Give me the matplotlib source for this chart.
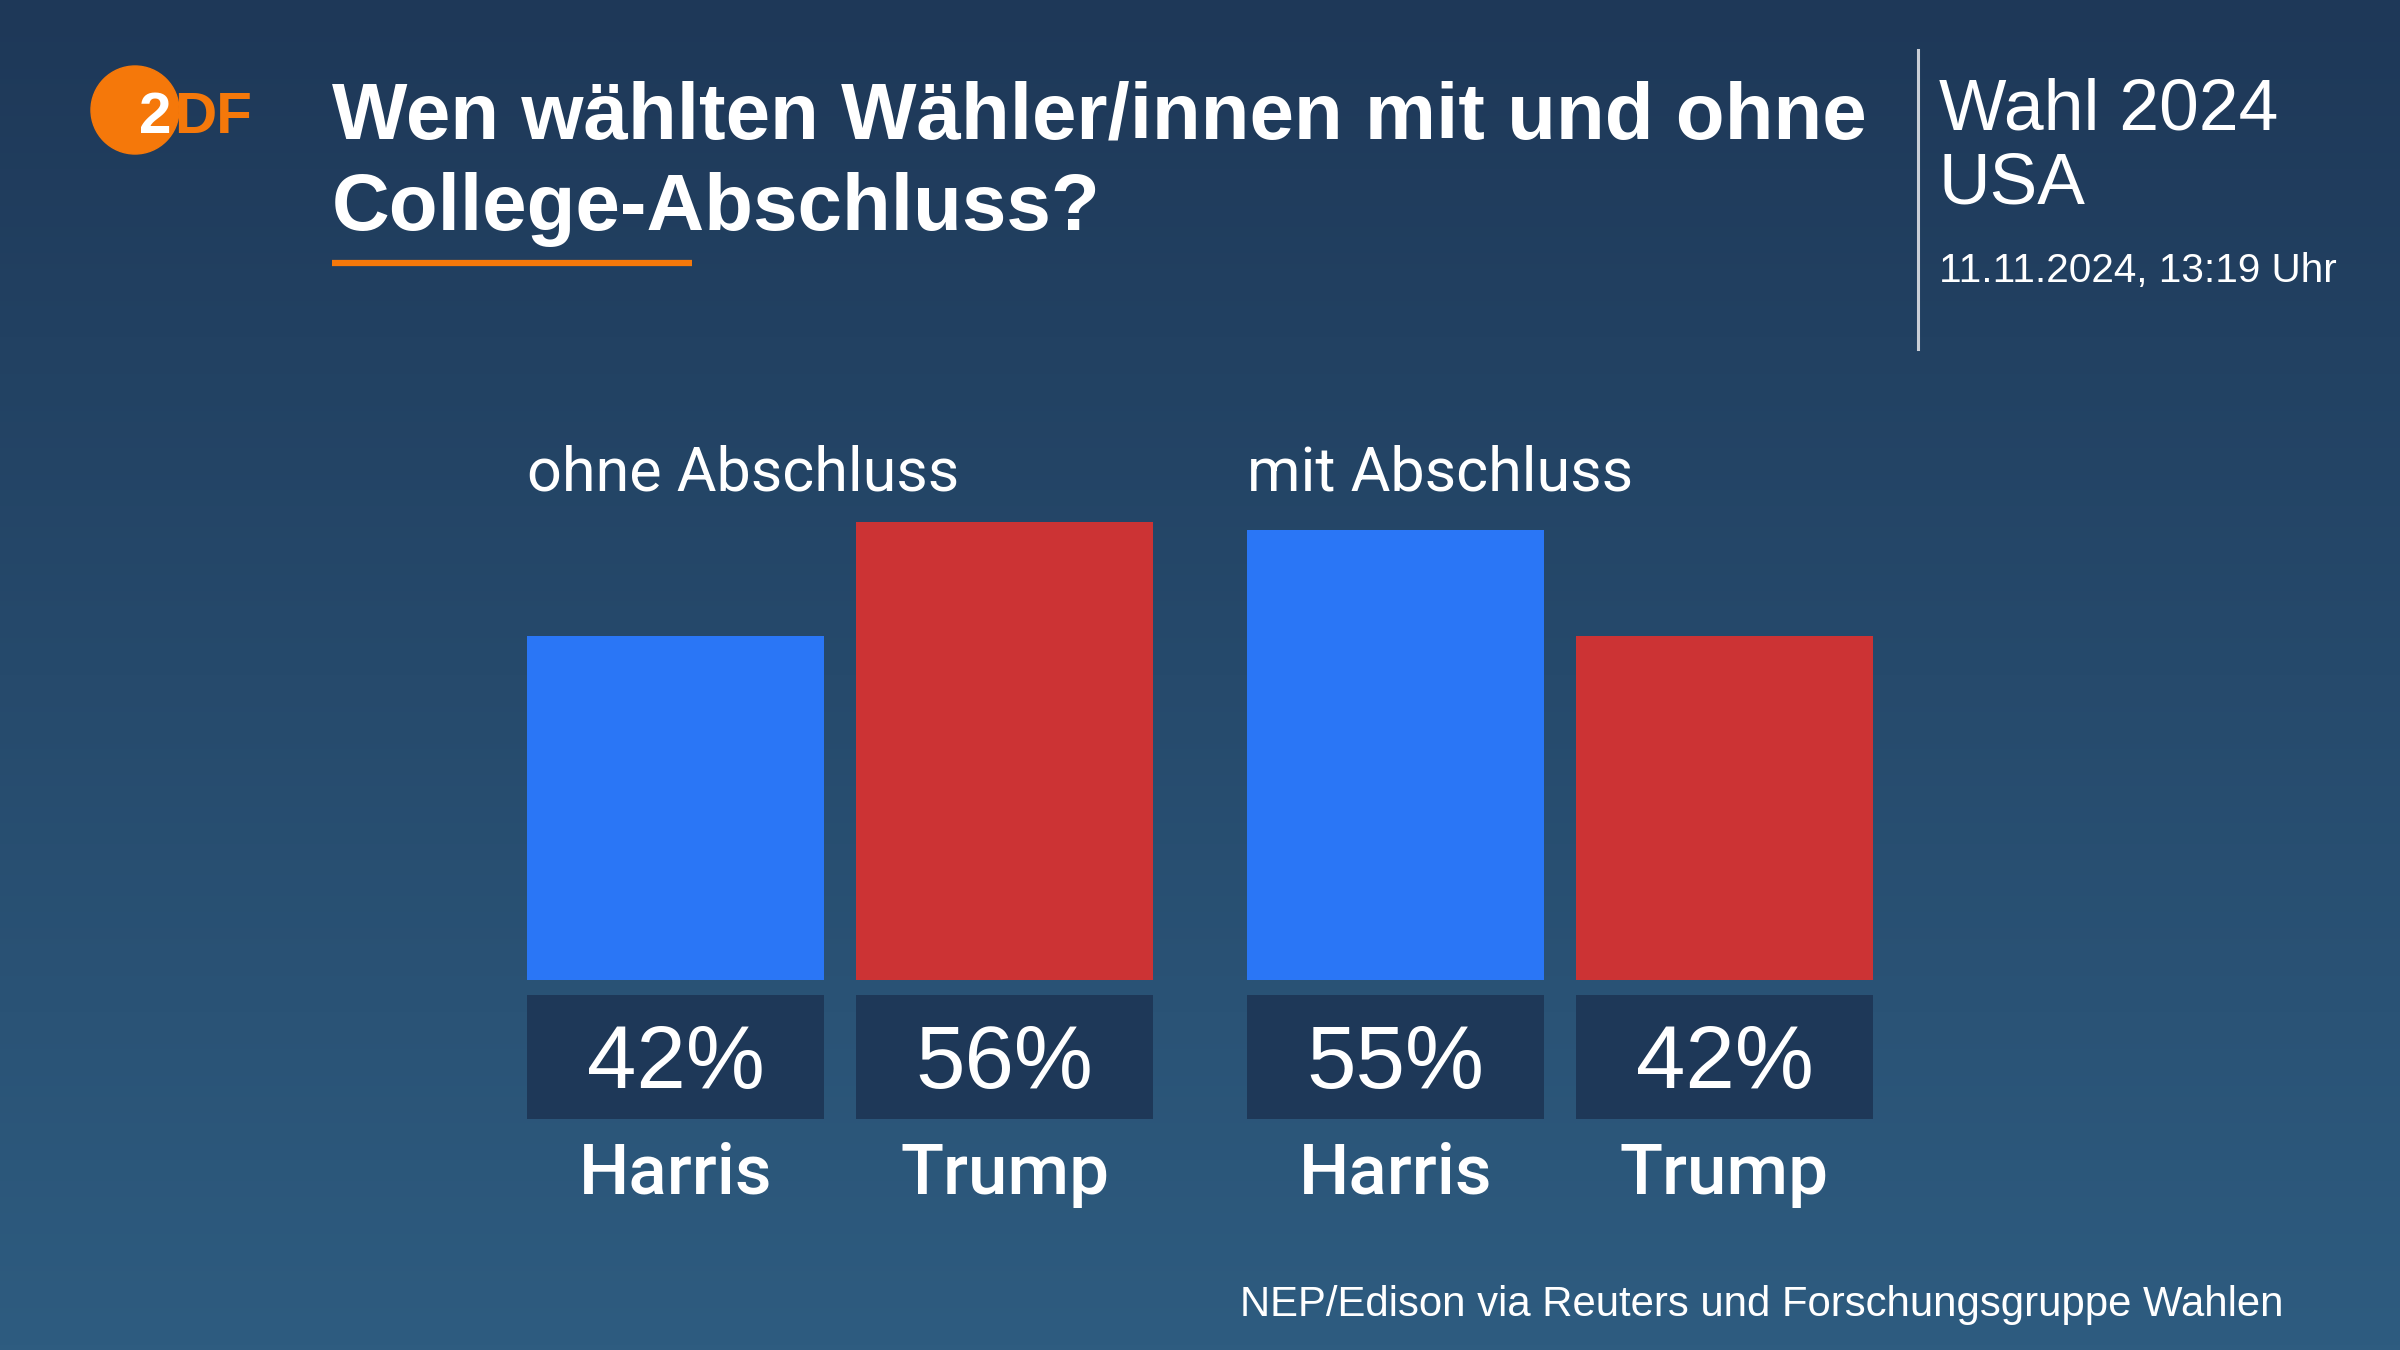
import matplotlib.pyplot as plt
import numpy as np

# Data
groups = ["ohne Abschluss", "mit Abschluss"]
candidates = ["Harris", "Trump"]
shares_ohne = [42, 56]
shares_mit = [55, 42]
cand_colors = ["#2a76f6", "#cc3334"]

title_lines = ["Wen wählten Wähler/innen mit und ohne", "College-Abschluss?"]
source = "NEP/Edison via Reuters und Forschungsgruppe Wahlen"

W, H = 2400, 1350
fig = plt.figure(figsize=(24, 13.5), dpi=100)

# background gradient
bg = fig.add_axes([0, 0, 1, 1])
top = np.array([30, 56, 88]) / 255
bot = np.array([46, 92, 128]) / 255
t = np.linspace(0, 1, 256)[:, None, None]
grad = top * (1 - t) + bot * t
grad = np.repeat(grad, 4, axis=1)
bg.imshow(grad, extent=[0, W, H, 0], aspect="auto", zorder=0)
bg.set_xlim(0, W)
bg.set_ylim(H, 0)
bg.axis("off")

# logo
bg.add_patch(plt.Circle((135, 110), 44, color="#f5780a", zorder=2))
bg.text(139, 133, "2", color="white", fontsize=42, fontweight="bold",
        family="Liberation Sans", va="baseline", ha="left", zorder=3)
bg.text(174, 133, "DF", color="#f5780a", fontsize=42, fontweight="bold",
        family="Liberation Sans", va="baseline", ha="left", zorder=3)

# title
bg.text(332, 138, title_lines[0], color="white", fontsize=57.5, fontweight="bold",
        family="Liberation Sans", va="baseline")
bg.text(332, 230, title_lines[1], color="white", fontsize=57.5, fontweight="bold",
        family="Liberation Sans", va="baseline")
bg.plot([332, 692], [263, 263], color="#f5780a", lw=4.5, solid_capstyle="butt")

# right header block
bg.plot([1918, 1918], [50, 349], color="#c9ced6", lw=2.2)
bg.text(1939, 130, "Wahl 2024", color="white", fontsize=51.5, family="Liberation Sans",
        va="baseline")
bg.text(1939, 204, "USA", color="white", fontsize=51.5, family="Liberation Sans",
        va="baseline")
bg.text(1939, 282, "11.11.2024, 13:19 Uhr", color="white", fontsize=29.2,
        family="Liberation Sans", va="baseline")

# source
bg.text(2284, 1316, source, color="white", fontsize=30.2, family="Liberation Sans",
        va="baseline", ha="right")

# bars
ax = fig.add_axes([527 / W, (H - 980) / H, 1346 / W, 491 / H])
ax.patch.set_alpha(0)
bar_w = 0.903
group_step = 2.188
ax.set_xlim(-bar_w / 2, group_step + 1 + bar_w / 2)
ax.set_ylim(0, 60)
ax.axis("off")

for gi, (gname, vals) in enumerate(zip(groups, [shares_ohne, shares_mit])):
    xs = [gi * group_step + ci for ci in range(len(candidates))]
    ax.bar(xs, vals, width=bar_w, color=cand_colors, zorder=2)
    ax.bar(xs, [-15.16] * len(xs), bottom=-1.83, width=bar_w, color="#1e3858",
           clip_on=False, zorder=2)
    ax.text(xs[0] - bar_w / 2, 59.8, gname, color="white", fontsize=44,
            family="Roboto", va="baseline", ha="left")
    for x, v, name in zip(xs, vals, candidates):
        ax.text(x, -13.2, f"{v}%", color="white", fontsize=64,
                family="Liberation Sans", ha="center", va="baseline", clip_on=False)
        ax.text(x, -26.15, name, color="white", fontsize=51, fontweight="medium",
                family="Roboto", ha="center", va="baseline", clip_on=False)

fig.savefig("out.png", dpi=100)
